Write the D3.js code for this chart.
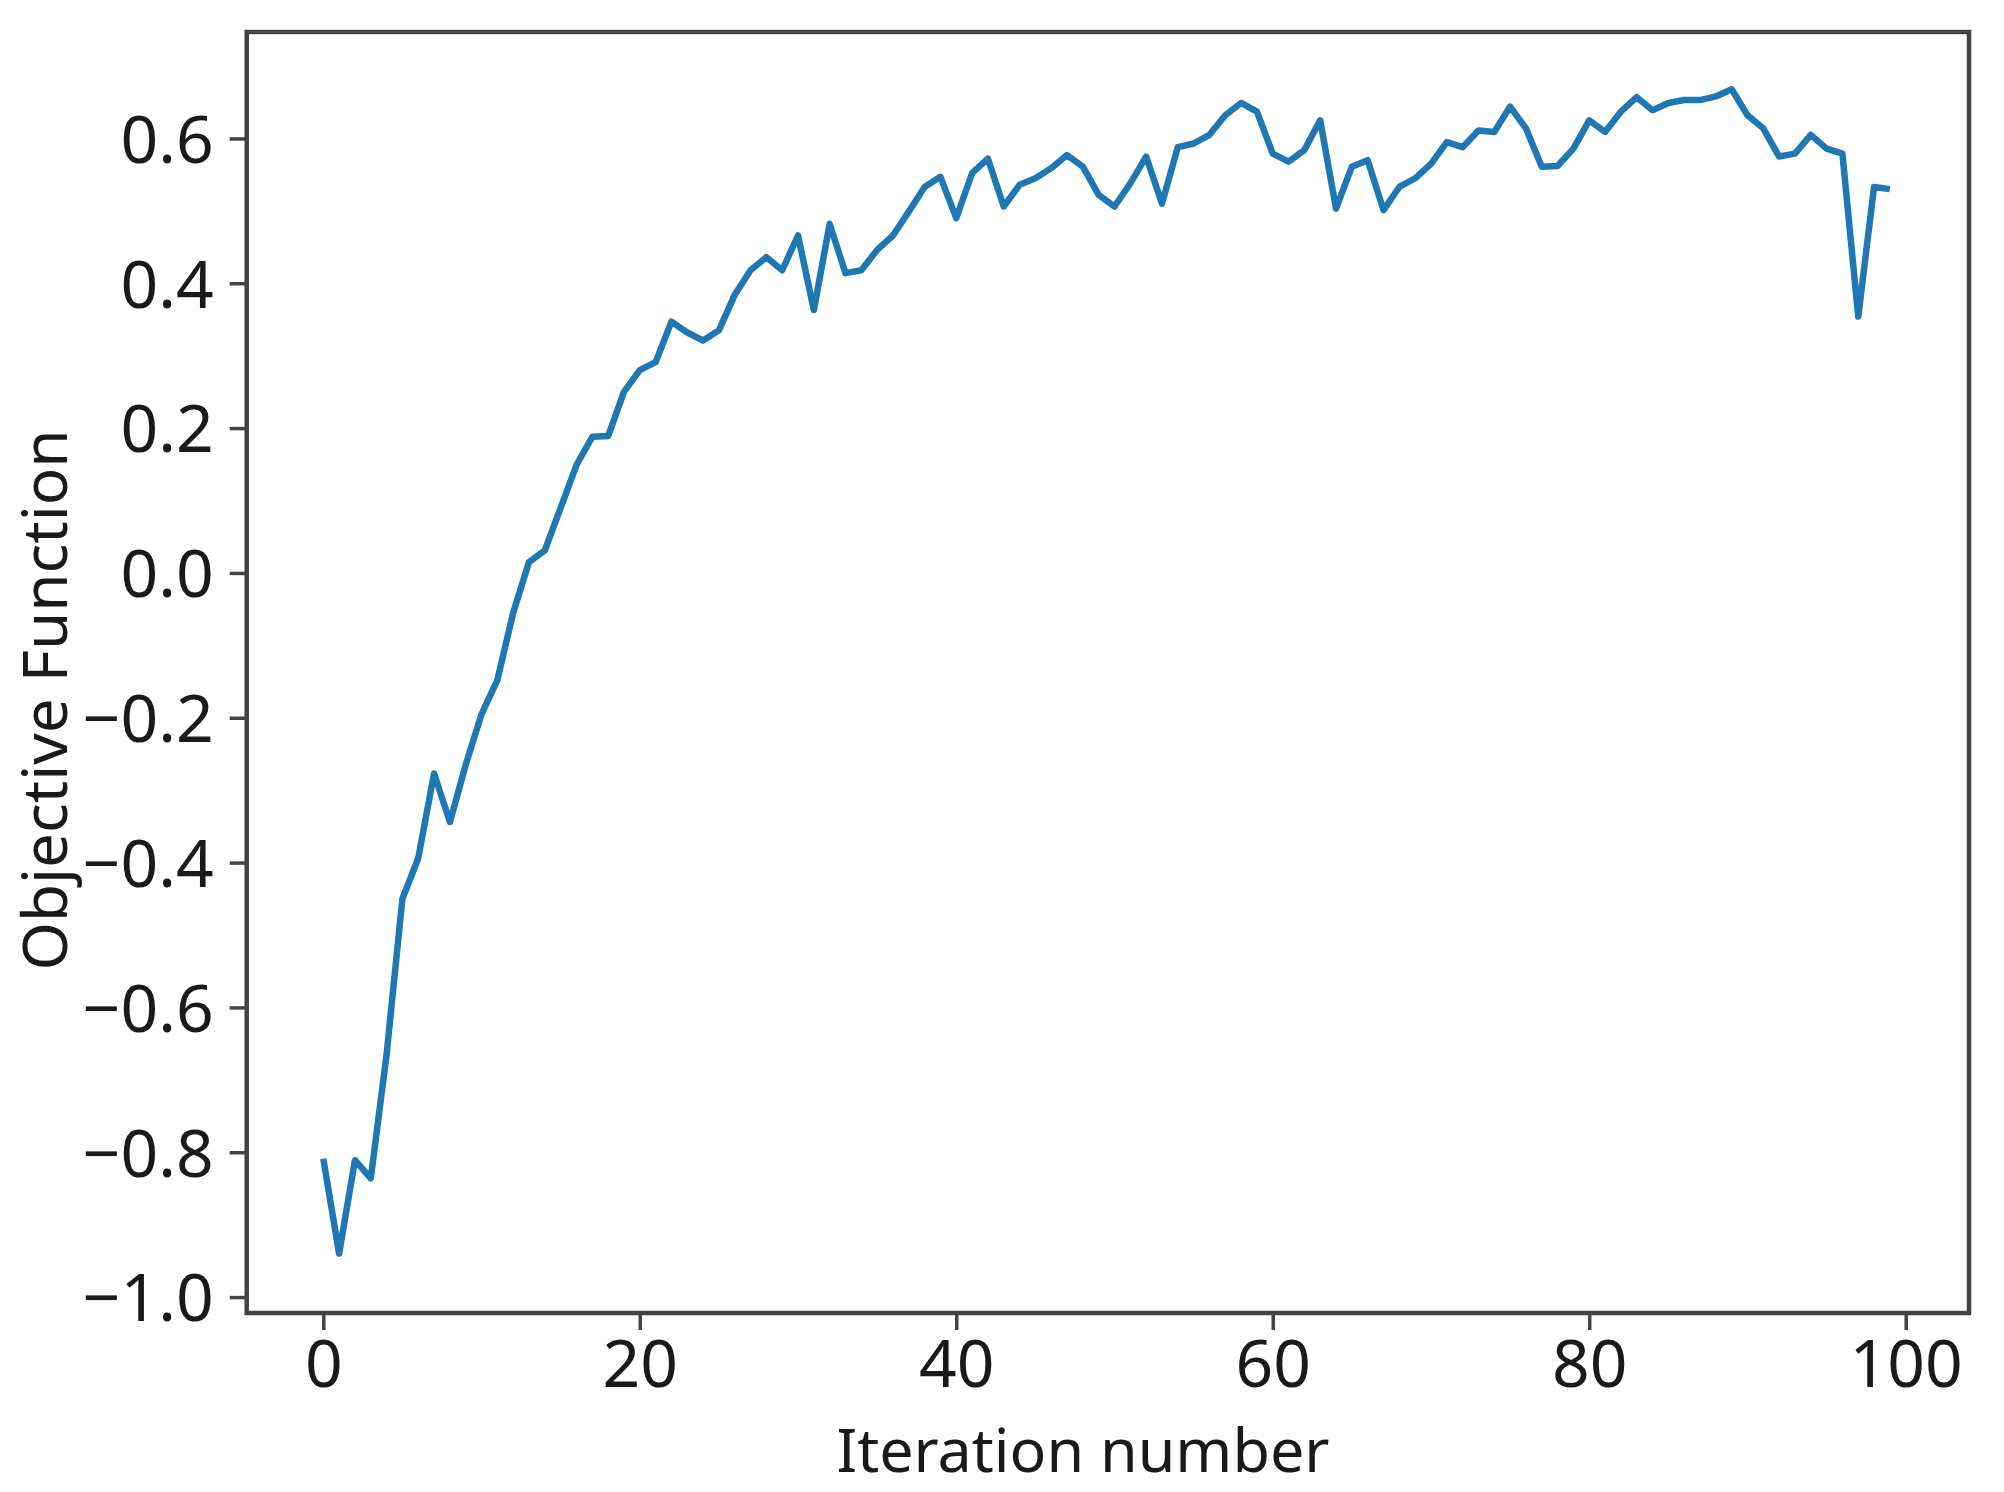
<!DOCTYPE html>
<html>
<head>
<meta charset="utf-8">
<script src="https://cdn.jsdelivr.net/npm/d3@7"></script>
<style>
  html, body { margin: 0; padding: 0; background: #ffffff; }
  svg { display: block; }
</style>
</head>
<body>
<script>
// ---- data ----
const objectiveValues = [
  -0.809, -0.940, -0.811, -0.836, -0.665, -0.450, -0.394, -0.277, -0.344, -0.265,
  -0.195, -0.148, -0.055, 0.015, 0.031, 0.090, 0.149, 0.188, 0.189, 0.250,
  0.280, 0.291, 0.347, 0.332, 0.321, 0.335, 0.384, 0.418, 0.436, 0.418,
  0.466, 0.363, 0.482, 0.414, 0.418, 0.446, 0.466, 0.499, 0.533, 0.547,
  0.490, 0.552, 0.572, 0.506, 0.536, 0.545, 0.559, 0.577, 0.561, 0.522,
  0.506, 0.538, 0.575, 0.510, 0.588, 0.593, 0.605, 0.632, 0.649, 0.637,
  0.579, 0.568, 0.584, 0.625, 0.503, 0.561, 0.570, 0.501, 0.533, 0.545,
  0.565, 0.595, 0.588, 0.611, 0.609, 0.644, 0.614, 0.561, 0.562, 0.586,
  0.625, 0.609, 0.637, 0.657, 0.639, 0.649, 0.653, 0.653, 0.658, 0.668,
  0.632, 0.614, 0.575, 0.579, 0.605, 0.586, 0.579, 0.354, 0.533, 0.530
];
const xTicks = [0, 20, 40, 60, 80, 100];
const yTicks = [-1.0, -0.8, -0.6, -0.4, -0.2, 0.0, 0.2, 0.4, 0.6];
const xLabel = "Iteration number";
const yLabel = "Objective Function";

// ---- layout ----
const W = 2004, H = 1492;
const plot = { left: 246.7, right: 1969, top: 32, bottom: 1313 };

const svg = d3.select("body").append("svg")
  .attr("width", W).attr("height", H);

const x = d3.scaleLinear().domain([-4.84, 104.0]).range([plot.left, plot.right]);
const y = d3.scaleLinear().domain([-1.022, 0.747]).range([plot.bottom, plot.top]);

const fontFam = "'Noto Sans', 'Open Sans', sans-serif";
const tickColor = "#444";
const textColor = "#1a1a1a";

// line
const line = d3.line()
  .x((d, i) => x(i))
  .y(d => y(d));

const clipId = "plotclip";
svg.append("clipPath").attr("id", clipId)
  .append("rect")
  .attr("x", plot.left).attr("y", plot.top)
  .attr("width", plot.right - plot.left).attr("height", plot.bottom - plot.top);

svg.append("path")
  .datum(objectiveValues)
  .attr("clip-path", `url(#${clipId})`)
  .attr("fill", "none")
  .attr("stroke", "#1f77b4")
  .attr("stroke-width", 6.5)
  .attr("stroke-linejoin", "round")
  .attr("stroke-linecap", "butt")
  .attr("d", line);

// axes
const fmtY = d => d3.format(".1f")(d).replace("-", "\u2212");

const xAxis = d3.axisBottom(x).tickValues(xTicks).tickSize(17).tickPadding(8)
  .tickFormat(d3.format("d"));
const gx = svg.append("g")
  .attr("transform", `translate(0,${plot.bottom})`)
  .call(xAxis);
gx.select(".domain").remove();
gx.selectAll(".tick line").attr("stroke", tickColor).attr("stroke-width", 3.5);
gx.selectAll(".tick text")
  .attr("font-family", fontFam).attr("font-size", 66).attr("fill", textColor)
  .attr("dy", null).attr("y", 74);

const yAxis = d3.axisLeft(y).tickValues(yTicks).tickSize(17).tickPadding(16)
  .tickFormat(fmtY);
const gy = svg.append("g")
  .attr("transform", `translate(${plot.left},0)`)
  .call(yAxis);
gy.select(".domain").remove();
gy.selectAll(".tick line").attr("stroke", tickColor).attr("stroke-width", 3.5);
gy.selectAll(".tick text")
  .attr("font-family", fontFam).attr("font-size", 66).attr("fill", textColor)
  .attr("dy", "0.36em");

// frame
svg.append("rect")
  .attr("x", plot.left).attr("y", plot.top)
  .attr("width", plot.right - plot.left).attr("height", plot.bottom - plot.top)
  .attr("fill", "none").attr("stroke", tickColor).attr("stroke-width", 4.5);

// axis labels
svg.append("text")
  .attr("x", 1083).attr("y", 1472)
  .attr("text-anchor", "middle")
  .attr("font-family", fontFam).attr("font-size", 61).attr("fill", textColor)
  .text(xLabel);

svg.append("text")
  .attr("transform", `translate(67,700) rotate(-90)`)
  .attr("text-anchor", "middle")
  .attr("font-family", fontFam).attr("font-size", 62).attr("fill", textColor)
  .text(yLabel);
</script>
</body>
</html>
